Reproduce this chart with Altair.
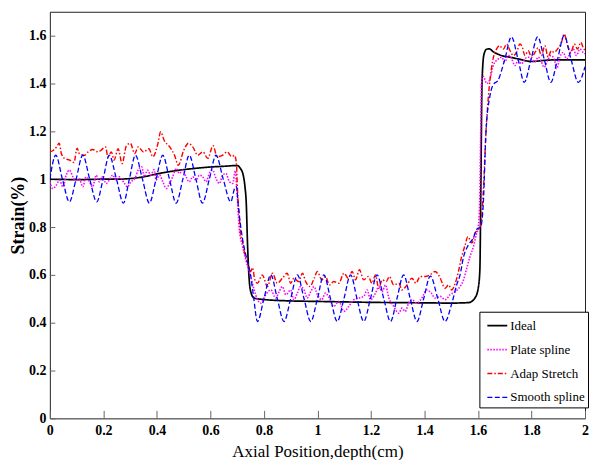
import altair as alt
import pandas as pd

SERIES = ["Ideal", "Plate spline", "Adap Stretch", "Smooth spline"]
COLORS = ["#000000", "#ff00ff", "#ff0000", "#0000ff"]
DASHES = [[1, 0], [1.5, 1.5], [5, 2, 1.5, 2], [5, 2.5]]
WIDTHS = [1.7, 1.3, 1.2, 1.5]

X_TICKS = [0, 0.2, 0.4, 0.6, 0.8, 1, 1.2, 1.4, 1.6, 1.8, 2]
Y_TICKS = [0, 0.2, 0.4, 0.6, 0.8, 1, 1.2, 1.4, 1.6]

ideal_x = [0, 0.05, 0.1, 0.15, 0.2, 0.25, 0.28, 0.32, 0.36, 0.4, 0.45, 0.5, 0.55, 0.6, 0.65,
           0.7, 0.712, 0.722, 0.729, 0.734, 0.739, 0.745, 0.752, 0.763, 0.8, 0.9, 1.0, 1.1,
           1.2, 1.3, 1.4, 1.5, 1.565, 1.589, 1.601, 1.607, 1.611, 1.615, 1.622, 1.632, 1.642,
           1.657, 1.688, 1.72, 1.75, 1.8, 1.85, 1.9, 2.0]
ideal_y = [1.0, 0.999, 0.998, 0.999, 1.0, 1.0, 1.001, 1.005, 1.012, 1.022, 1.032, 1.04, 1.046,
           1.051, 1.054, 1.057, 1.045, 1.02, 0.97, 0.9, 0.72, 0.58, 0.525, 0.503, 0.497, 0.491,
           0.489, 0.487, 0.485, 0.484, 0.483, 0.482, 0.484, 0.504, 0.545, 0.62, 1.0, 1.4, 1.52,
           1.543, 1.545, 1.533, 1.517, 1.51, 1.503, 1.492, 1.497, 1.499, 1.499]

plate_x = [0.0, 0.011, 0.024, 0.036, 0.049, 0.061, 0.073, 0.086, 0.098, 0.11, 0.123, 0.135,
           0.148, 0.16, 0.173, 0.185, 0.197, 0.21, 0.222, 0.235, 0.247, 0.26, 0.275, 0.29,
           0.303, 0.318, 0.33, 0.343, 0.353, 0.365, 0.377, 0.39, 0.397, 0.41, 0.422, 0.435,
           0.447, 0.459, 0.472, 0.484, 0.497, 0.509, 0.521, 0.534, 0.546, 0.559, 0.571, 0.584,
           0.596, 0.608, 0.621, 0.633, 0.646, 0.658, 0.671, 0.683, 0.693, 0.699, 0.708, 0.72,
           0.733, 0.751, 0.763, 0.776, 0.788, 0.807, 0.826, 0.844, 0.857, 0.869, 0.882, 0.9,
           0.912, 0.925, 0.937, 0.95, 0.962, 0.975, 0.987, 1.0, 1.016, 1.03, 1.043, 1.061,
           1.08, 1.099, 1.117, 1.136, 1.155, 1.173, 1.186, 1.198, 1.217, 1.229, 1.242, 1.254,
           1.267, 1.285, 1.304, 1.316, 1.328, 1.341, 1.353, 1.372, 1.39, 1.409, 1.425, 1.44,
           1.459, 1.477, 1.496, 1.515, 1.533, 1.546, 1.558, 1.57, 1.583, 1.592, 1.601, 1.606,
           1.61, 1.613, 1.62, 1.633, 1.645, 1.657, 1.673, 1.688, 1.701, 1.713, 1.726, 1.738,
           1.75, 1.763, 1.775, 1.788, 1.8, 1.813, 1.825, 1.835, 1.847, 1.86, 1.872, 1.885,
           1.894, 1.906, 1.918, 1.931, 1.943, 1.956, 1.968, 1.981, 1.993, 2.0]
plate_y = [0.989, 0.961, 0.975, 0.996, 0.968, 1.017, 1.038, 1.01, 0.989, 1.003, 0.968, 1.01,
           0.989, 0.968, 1.017, 0.989, 1.01, 0.982, 0.996, 1.017, 0.996, 1.01, 0.989, 0.968,
           0.989, 1.003, 1.038, 1.052, 1.01, 1.038, 1.017, 1.04, 0.996, 1.017, 0.989, 0.961,
           0.982, 1.01, 1.045, 1.024, 1.038, 1.01, 0.989, 1.01, 0.996, 1.017, 1.01, 0.989,
           1.024, 1.038, 1.003, 0.982, 1.017, 1.024, 0.989, 0.982, 1.035, 0.95, 0.79, 0.72,
           0.66, 0.593, 0.54, 0.496, 0.482, 0.517, 0.537, 0.503, 0.53, 0.551, 0.517, 0.537,
           0.496, 0.524, 0.551, 0.537, 0.503, 0.53, 0.551, 0.517, 0.496, 0.524, 0.505, 0.468,
           0.489, 0.447, 0.468, 0.496, 0.503, 0.51, 0.537, 0.496, 0.524, 0.551, 0.53, 0.558,
           0.503, 0.468, 0.44, 0.461, 0.447, 0.482, 0.496, 0.482, 0.503, 0.537, 0.524, 0.503,
           0.51, 0.496, 0.517, 0.53, 0.551, 0.579, 0.628, 0.676, 0.718, 0.76, 0.8, 0.9,
           1.19, 1.4, 1.43, 1.4, 1.42, 1.475, 1.5, 1.51, 1.49, 1.517, 1.503, 1.475,
           1.496, 1.482, 1.503, 1.51, 1.503, 1.49, 1.51, 1.496, 1.468, 1.496, 1.517, 1.503,
           1.462, 1.51, 1.53, 1.503, 1.524, 1.544, 1.517, 1.544, 1.53, 1.524]

adap_x = [0.0, 0.012, 0.025, 0.035, 0.043, 0.055, 0.074, 0.09, 0.102, 0.11, 0.13, 0.143, 0.16,
          0.18, 0.19, 0.208, 0.217, 0.23, 0.24, 0.255, 0.27, 0.286, 0.301, 0.317, 0.33, 0.35,
          0.37, 0.385, 0.404, 0.414, 0.427, 0.448, 0.466, 0.48, 0.5, 0.518, 0.534, 0.553,
          0.572, 0.59, 0.61, 0.625, 0.645, 0.663, 0.68, 0.69, 0.697, 0.701, 0.708, 0.714,
          0.72, 0.726, 0.732, 0.743, 0.751, 0.757, 0.766, 0.776, 0.794, 0.813, 0.832, 0.85,
          0.869, 0.887, 0.9, 0.912, 0.93, 0.944, 0.956, 0.972, 0.988, 1.0, 1.016, 1.03, 1.045,
          1.061, 1.08, 1.099, 1.115, 1.13, 1.142, 1.157, 1.173, 1.19, 1.204, 1.217, 1.229,
          1.242, 1.257, 1.269, 1.285, 1.304, 1.316, 1.335, 1.353, 1.368, 1.384, 1.403, 1.421,
          1.44, 1.452, 1.459, 1.477, 1.49, 1.502, 1.515, 1.527, 1.539, 1.552, 1.562, 1.577,
          1.589, 1.601, 1.611, 1.62, 1.63, 1.64, 1.65, 1.66, 1.67, 1.68, 1.695, 1.707, 1.72,
          1.732, 1.744, 1.757, 1.766, 1.775, 1.788, 1.8, 1.813, 1.825, 1.837, 1.85, 1.862,
          1.874, 1.884, 1.897, 1.912, 1.922, 1.935, 1.947, 1.96, 1.972, 1.984, 1.993, 2.0]
adap_y = [1.114, 1.12, 1.135, 1.15, 1.107, 1.087, 1.08, 1.07, 1.13, 1.107, 1.1, 1.114, 1.124,
          1.114, 1.12, 1.135, 1.094, 1.114, 1.08, 1.127, 1.065, 1.14, 1.15, 1.107, 1.135, 1.114,
          1.127, 1.094, 1.15, 1.198, 1.163, 1.135, 1.1, 1.058, 1.12, 1.15, 1.135, 1.1,
          1.114, 1.087, 1.14, 1.094, 1.1, 1.114, 1.094, 1.1, 1.07, 0.96, 0.843, 0.76,
          0.74, 0.7, 0.676, 0.635, 0.614, 0.63, 0.58, 0.565, 0.6, 0.551, 0.607, 0.565,
          0.586, 0.607, 0.565, 0.586, 0.572, 0.607, 0.572, 0.551, 0.586, 0.614, 0.579, 0.593, 0.558,
          0.572, 0.565, 0.607, 0.586, 0.614, 0.579, 0.621, 0.579, 0.593, 0.565, 0.6, 0.544,
          0.579, 0.572, 0.593, 0.558, 0.565, 0.537, 0.558, 0.586, 0.565, 0.593, 0.593, 0.6,
          0.614, 0.6, 0.586, 0.544, 0.558, 0.537, 0.565, 0.614, 0.676, 0.725, 0.76, 0.733,
          0.774, 0.79, 0.81, 0.95, 1.2, 1.36, 1.46, 1.52, 1.545, 1.558, 1.544, 1.565, 1.537,
          1.517, 1.53, 1.565, 1.551, 1.517, 1.537, 1.51, 1.53, 1.55, 1.517, 1.558, 1.51,
          1.537, 1.53, 1.544, 1.572, 1.607, 1.558, 1.53, 1.565, 1.544, 1.572, 1.551, 1.537]

smooth_x = [0.0, 0.022, 0.047, 0.073, 0.098, 0.123, 0.149, 0.175, 0.199, 0.222, 0.249, 0.275,
            0.297, 0.32, 0.346, 0.372, 0.397, 0.422, 0.447, 0.472, 0.497, 0.521, 0.546, 0.57,
            0.596, 0.621, 0.648, 0.676, 0.69, 0.697, 0.705, 0.72, 0.733, 0.75, 0.76, 0.776,
            0.8, 0.826, 0.85, 0.875, 0.9, 0.925, 0.95, 0.975, 1.0, 1.024, 1.049, 1.074, 1.099,
            1.124, 1.148, 1.173, 1.198, 1.223, 1.248, 1.273, 1.297, 1.322, 1.347, 1.372, 1.397,
            1.422, 1.45, 1.477, 1.502, 1.521, 1.533, 1.546, 1.564, 1.583, 1.595, 1.61, 1.62,
            1.63, 1.645, 1.66, 1.673, 1.7, 1.725, 1.75, 1.773, 1.798, 1.823, 1.848, 1.872,
            1.897, 1.922, 1.948, 1.975, 2.0]
smooth_y = [1.0, 1.1, 1.0, 0.905, 1.0, 1.1, 1.0, 0.905, 1.0, 1.1, 1.0, 0.9,
            1.0, 1.1, 1.0, 0.9, 1.0, 1.1, 1.0, 0.9, 1.0, 1.1, 1.0, 0.9,
            1.0, 1.1, 1.0, 0.905, 0.96, 0.97, 0.88, 0.75, 0.68, 0.6, 0.52, 0.405,
            0.5, 0.6, 0.5, 0.405, 0.5, 0.6, 0.5, 0.405, 0.5, 0.6, 0.5, 0.405, 0.5,
            0.6, 0.5, 0.405, 0.5, 0.6, 0.5, 0.405, 0.5, 0.6, 0.5, 0.405, 0.5,
            0.595, 0.5, 0.405, 0.48, 0.56, 0.6, 0.675, 0.725, 0.755, 0.79, 0.8, 0.9,
            1.2, 1.35, 1.4, 1.41, 1.5, 1.595, 1.5, 1.405, 1.5, 1.595, 1.5, 1.405,
            1.5, 1.6, 1.5, 1.405, 1.47]

rows = []
for name, xs_, ys_ in [("Ideal", ideal_x, ideal_y), ("Plate spline", plate_x, plate_y),
                       ("Adap Stretch", adap_x, adap_y), ("Smooth spline", smooth_x, smooth_y)]:
    for a, b in zip(xs_, ys_):
        rows.append({"series": name, "x": a, "y": b})
df = pd.DataFrame(rows)

W, H = 537, 408
FONT = "Liberation Serif"
xsc = alt.Scale(domain=[0, 2], nice=False, zero=False)
ysc = alt.Scale(domain=[0, 1.7], nice=False, zero=False)

# negative offset + tick length keeps the ticks inside the frame, labels stay outside
x_axis = alt.Axis(values=X_TICKS, labelExpr="toString(datum.value)", title="Axial Position,depth(cm)",
                  domain=False, grid=False, labelFlush=False,
                  ticks=True, tickSize=8, tickColor="#666666", tickWidth=1, offset=-8,
                  labelPadding=5,
                  labelFont=FONT, labelFontWeight="bold", labelFontSize=14, labelColor="black",
                  titleFont=FONT, titleFontSize=17, titleFontWeight="normal", titleColor="black",
                  titleBaseline="alphabetic", titleY=46)
y_axis = alt.Axis(values=Y_TICKS, labelExpr="toString(datum.value)", title="Strain(%)",
                  domain=False, grid=False, labelFlush=False,
                  ticks=True, tickSize=5, tickColor="#666666", tickWidth=1, offset=-5,
                  labelPadding=4,
                  labelFont=FONT, labelFontWeight="bold", labelFontSize=14, labelColor="black",
                  titleFont=FONT, titleFontSize=18, titleFontWeight="bold", titleColor="black",
                  titlePadding=1)
leg = alt.Legend(title=None, orient="none", legendX=431, legendY=301,
                 strokeColor="black", fillColor="white", padding=3, rowPadding=6,
                 symbolType="stroke", symbolSize=400, symbolStrokeWidth=1.5,
                 symbolOffset=4, labelOffset=2,
                 labelFont=FONT, labelFontSize=13, labelColor="black")

chart = alt.Chart(df).mark_line(interpolate="monotone", clip=True).encode(
    x=alt.X("x:Q", scale=xsc, axis=x_axis),
    y=alt.Y("y:Q", scale=ysc, axis=y_axis),
    color=alt.Color("series:N", scale=alt.Scale(domain=SERIES, range=COLORS), legend=leg),
    strokeDash=alt.StrokeDash("series:N", scale=alt.Scale(domain=SERIES, range=DASHES), legend=leg),
    strokeWidth=alt.StrokeWidth("series:N", scale=alt.Scale(domain=SERIES, range=WIDTHS), legend=None),
).properties(
    width=W, height=H,
    autosize=alt.AutoSizeParams(type="none"),
    padding={"left": 42, "top": 3, "right": 5, "bottom": 41},
).configure_view(
    stroke="#222222", strokeWidth=1
).configure_legend(
    labelFont=FONT, labelFontSize=13, labelColor="black"
)

chart.save("out.html", embed_options={"renderer": "svg", "actions": False})
